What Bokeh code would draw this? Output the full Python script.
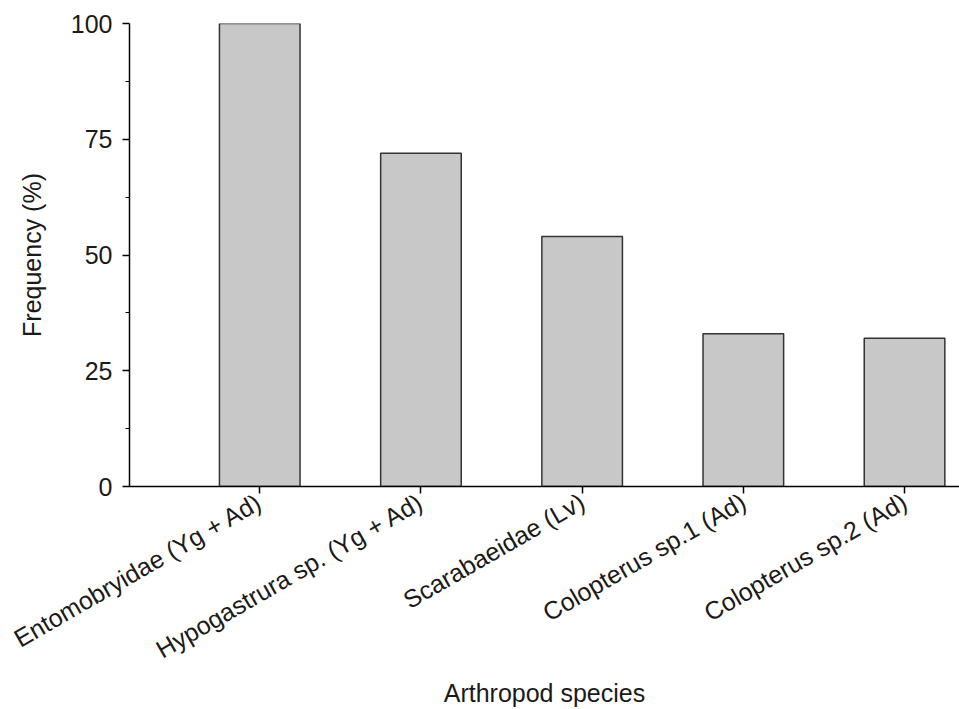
from bokeh.plotting import figure
from bokeh.models import FixedTicker, Range1d, ColumnDataSource
from bokeh.embed import file_html
from bokeh.resources import INLINE
import math

species = ["Entomobryidae (Yg + Ad)", "Hypogastrura sp. (Yg + Ad)", "Scarabaeidae (Lv)",
           "Colopterus sp.1 (Ad)", "Colopterus sp.2 (Ad)"]
frequency = [100, 72, 54, 33, 32]
y_ticks = [0, 25, 50, 75, 100]
y_minor = [12.5, 37.5, 62.5, 87.5]

xpos = list(range(1, len(species) + 1))
src = ColumnDataSource(dict(x=xpos, top=frequency))

FONT = "Liberation Sans"
TXT = "#1a1a1a"

p = figure(width=959, height=709, output_backend="svg", toolbar_location=None,
           x_range=Range1d(0.192, 5.341), y_range=Range1d(0, 100),
           min_border_left=129, min_border_top=23, min_border_right=0, min_border_bottom=223)
p.outline_line_color = None
p.xgrid.visible = False
p.ygrid.visible = False
p.background_fill_color = "white"
p.border_fill_color = "white"

p.vbar(x="x", top="top", bottom=0, width=0.5, source=src,
       fill_color="#c8c8c8", line_color="#333333", line_width=1.5)

# y axis
ya = p.yaxis[0]
ya.ticker = FixedTicker(ticks=y_ticks, minor_ticks=y_minor)
ya.major_tick_out = 7
ya.major_tick_in = 0
ya.minor_tick_out = 4
ya.minor_tick_in = 0
ya.major_label_standoff = 10
ya.major_label_text_font = FONT
ya.major_label_text_font_size = "25px"
ya.major_label_text_color = TXT
ya.axis_label = "Frequency (%)"
ya.axis_label_text_font = FONT
ya.axis_label_text_font_size = "25px"
ya.axis_label_text_font_style = "normal"
ya.axis_label_text_color = TXT
ya.axis_label_standoff = 22
ya.axis_line_width = 1.5
ya.major_tick_line_width = 1.5
ya.minor_tick_line_width = 1.2

# x axis
xa = p.xaxis[0]
xa.ticker = FixedTicker(ticks=xpos, minor_ticks=[])
xa.major_label_overrides = {x: s for x, s in zip(xpos, species)}
xa.major_label_orientation = math.pi / 6
xa.major_tick_out = 7
xa.major_tick_in = 0
xa.minor_tick_line_color = None
xa.major_label_standoff = 6
xa.major_label_text_font = FONT
xa.major_label_text_font_size = "25px"
xa.major_label_text_color = TXT
xa.axis_label = "Arthropod species"
xa.axis_label_text_font = FONT
xa.axis_label_text_font_size = "25px"
xa.axis_label_text_font_style = "normal"
xa.axis_label_text_color = TXT
xa.axis_label_standoff = 0
xa.axis_line_width = 1.5
xa.major_tick_line_width = 1.5

open("out.html", "w").write(file_html(p, INLINE))
